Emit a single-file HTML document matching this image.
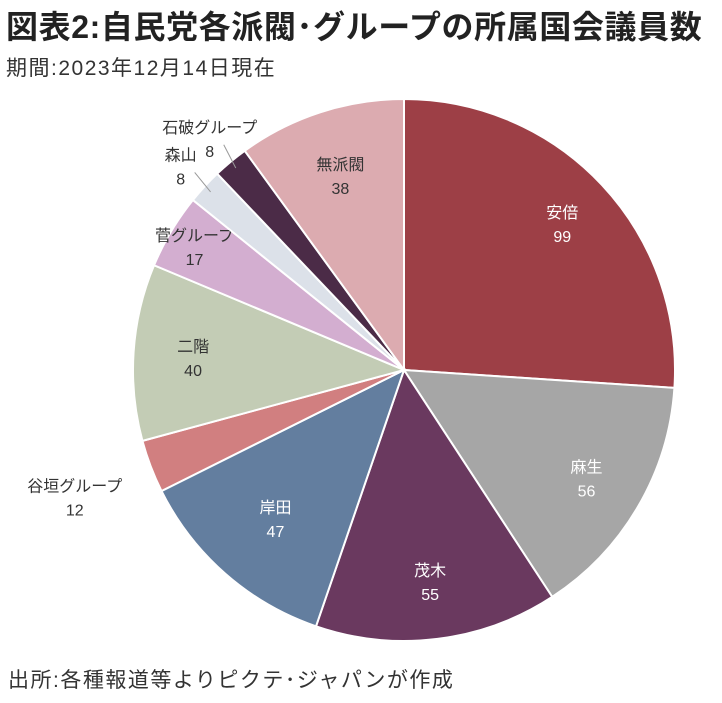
<!DOCTYPE html>
<html><head><meta charset="utf-8"><style>
body{margin:0;width:722px;height:703px;background:#fff;font-family:"Liberation Sans","Noto Sans CJK JP",sans-serif;overflow:hidden}
#title{position:absolute;left:6px;top:2px;font-size:32px;font-weight:bold;color:#222;letter-spacing:0.6px;white-space:nowrap}
#sub{position:absolute;left:6px;top:52px;font-size:21px;color:#333;letter-spacing:1.5px;white-space:nowrap}
#src{position:absolute;left:8px;top:664px;font-size:21px;color:#333;letter-spacing:1.5px;white-space:nowrap}
svg{position:absolute;left:0;top:0}
</style></head><body>
<div id="title">図表2:自民党各派閥･グループの所属国会議員数</div>
<div id="sub">期間:2023年12月14日現在</div>
<svg id="chart" width="722" height="703"></svg>
<div id="src">出所:各種報道等よりピクテ･ジャパンが作成</div>
<script>
const categories=["安倍","麻生","茂木","岸田","谷垣グループ","二階","菅グループ","森山","石破グループ","無派閥"];
const values=[99,56,55,47,12,40,17,8,8,38];
const colors=["#9d3f46","#a6a6a6","#6a395f","#637e9f","#d17f80","#c3ccb5","#d3aed0","#dce1e9","#4b2b47","#dcabb0"];
const labelR=[0.8,0.78,0.78,0.72,1.3,0.78,0.9,1.12,1.12,0.76];
const darkText=[false,false,false,false,true,true,true,true,true,true];
const svg=document.getElementById('chart');const NS="http://www.w3.org/2000/svg";
const cx=404,cy=370,R=271;
const total=values.reduce((a,b)=>a+b,0);
let acc=0;
function pt(a,r){return [cx+r*Math.sin(a),cy-r*Math.cos(a)];}
values.forEach((v,i)=>{
 const a0=acc/total*2*Math.PI;acc+=v;const a1=acc/total*2*Math.PI;
 const p0=pt(a0,R),p1=pt(a1,R);const large=(a1-a0)>Math.PI?1:0;
 const path=document.createElementNS(NS,'path');
 path.setAttribute('d',`M${cx},${cy}L${p0[0]},${p0[1]}A${R},${R} 0 ${large} 1 ${p1[0]},${p1[1]}Z`);
 path.setAttribute('fill',colors[i]);path.setAttribute('stroke','#fff');path.setAttribute('stroke-width','2');
 
 
 svg.appendChild(path);
 const am=(a0+a1)/2;const lp=pt(am,R*labelR[i]);
 if(labelR[i]>1.05&&i!==4){
  const e=pt(am,R*0.97),s=[lp[0]+14,lp[1]+8];
  const ln=document.createElementNS(NS,'path');
  ln.setAttribute('d',`M${s[0]},${s[1]}L${e[0]},${e[1]}`);ln.setAttribute('stroke','#999');ln.setAttribute('fill','none');
  
  
  svg.appendChild(ln);
 }
 const t=document.createElementNS(NS,'text');
 t.setAttribute('x',lp[0]);t.setAttribute('y',lp[1]-4);t.setAttribute('text-anchor','middle');
 t.setAttribute('font-size','16');t.setAttribute('fill',darkText[i]?'#333':'#fff');
 t.textContent=categories[i];
 
 
 svg.appendChild(t);
 const t2=document.createElementNS(NS,'text');
 t2.setAttribute('x',lp[0]);t2.setAttribute('y',lp[1]+20);t2.setAttribute('text-anchor','middle');
 t2.setAttribute('font-size','16');t2.setAttribute('fill',darkText[i]?'#333':'#fff');
 t2.textContent=v;
 
 
 svg.appendChild(t2);
});
</script>
</body></html>
